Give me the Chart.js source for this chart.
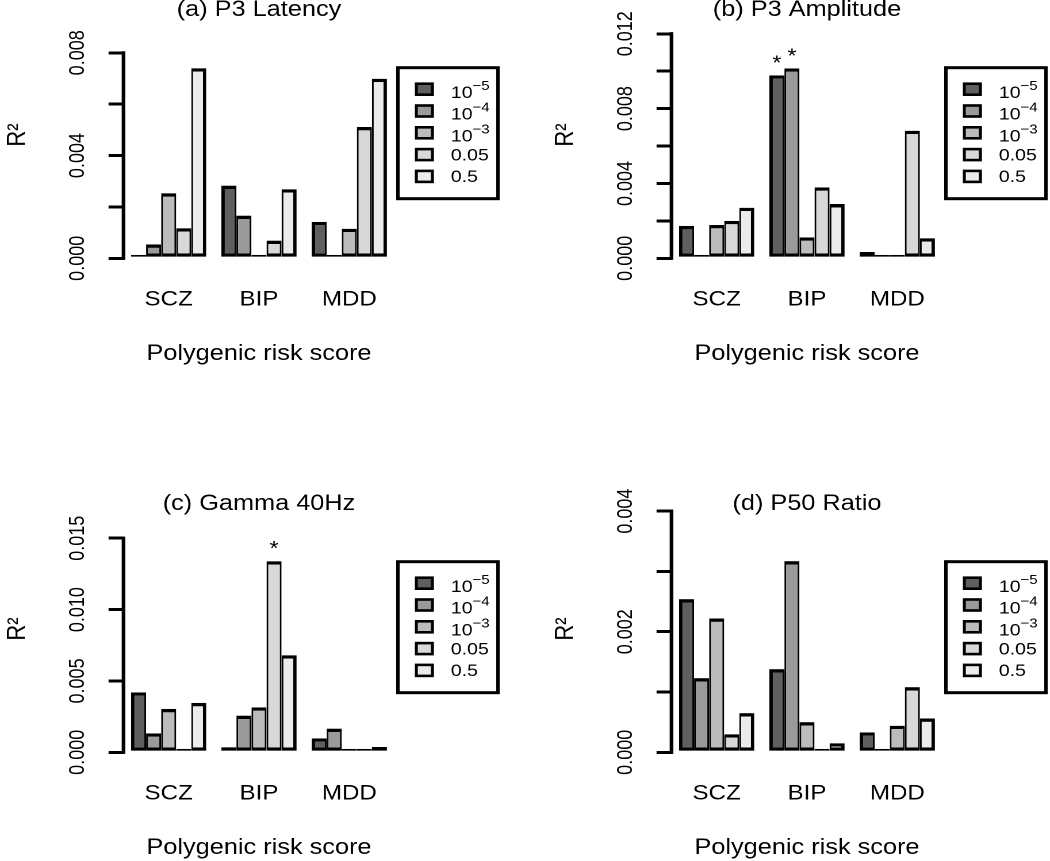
<!DOCTYPE html>
<html>
<head>
<meta charset="utf-8">
<script src="https://cdn.jsdelivr.net/npm/chart.js@4.4.1/dist/chart.umd.min.js"></script>
<style>
  html, body { margin: 0; padding: 0; background: #fff; }
  body { width: 1050px; height: 861px; position: relative; overflow: hidden; }
  /* the original figure is a little wider than tall, so stretch each panel */
  .panel { position: absolute; width: 436px; height: 391px; transform: scaleX(1.15); transform-origin: 0 0; }
</style>
</head>
<body>
<div class="panel" style="left:0;top:-24px"><canvas id="latency"></canvas></div>
<div class="panel" style="left:548px;top:-24px"><canvas id="amplitude"></canvas></div>
<div class="panel" style="left:0;top:470px"><canvas id="gamma"></canvas></div>
<div class="panel" style="left:548px;top:470px"><canvas id="p50"></canvas></div>
<script>
const categories = ['SCZ', 'BIP', 'MDD'];
const thresholds = ['10^-5', '10^-4', '10^-3', '0.05', '0.5'];
const shades = ['#5f5f5f', '#9a9a9a', '#bcbcbc', '#d8d8d8', '#ebebeb'];

// R^2 for each p-value threshold, one array per risk score
const latencySCZ = [0.00002, 0.00054, 0.00253, 0.00117, 0.0074];
const latencyBIP = [0.00283, 0.00166, 0.00009, 0.00069, 0.00269];
const latencyMDD = [0.00142, 0, 0.00115, 0.00511, 0.00699];

const amplitudeSCZ = [0.00173, 0.00012, 0.00178, 0.0020, 0.0027];
const amplitudeBIP = [0.00978, 0.01015, 0.00112, 0.00379, 0.0029];
const amplitudeMDD = [0.00034, 0.00002, 0.00007, 0.00682, 0.00107];

const gammaSCZ = [0.0042, 0.00133, 0.00304, 0.00005, 0.00346];
const gammaBIP = [0.00035, 0.00257, 0.00315, 0.01339, 0.0068];
const gammaMDD = [0.00098, 0.00166, 0, 0.00002, 0.00037];

const p50SCZ = [0.00254, 0.00123, 0.00222, 0.0003, 0.00065];
const p50BIP = [0.00138, 0.00317, 0.0005, 0.00004, 0.00015];
const p50MDD = [0.00033, 0, 0.00044, 0.00108, 0.00056];

// [category index, threshold index] of the bars marked with a star
const amplitudeStars = [[1, 0], [1, 1]];
const gammaStars = [[1, 3]];

Chart.defaults.font.family = "'Liberation Sans', Arial, sans-serif";
Chart.defaults.color = '#000';

const rDecor = {
    id: 'rDecor',
    afterDraw(chart, args, opts) {
        const {ctx, chartArea, scales: {y}} = chart;
        const family = Chart.defaults.font.family;
        ctx.save();
        ctx.strokeStyle = '#000';
        ctx.fillStyle = '#000';

        // R draws the axis line only between the first and last tick
        const ticks = y.ticks;
        ctx.lineWidth = 3.2;
        ctx.beginPath();
        ctx.moveTo(chartArea.left, y.getPixelForValue(ticks[0].value) + 1.6);
        ctx.lineTo(chartArea.left, y.getPixelForValue(ticks[ticks.length - 1].value) - 1.6);
        ctx.stroke();

        ctx.font = '20px ' + family;
        ctx.textAlign = 'center';
        ctx.textBaseline = 'alphabetic';
        for (const [g, d] of opts.stars || []) {
            const bar = chart.getDatasetMeta(d).data[g];
            ctx.fillText('*', bar.x, bar.y - 6);
        }

        // boxed legend to the right of the plot
        const lx = chartArea.right + 3, ly = chartArea.top + 56;
        ctx.lineWidth = 3;
        ctx.strokeRect(lx, ly, 87, 131);
        chart.data.datasets.forEach((ds, i) => {
            const cy = ly + 21.5 + i * 21.8;
            ctx.fillStyle = ds.backgroundColor;
            ctx.fillRect(lx + 16, cy - 5.5, 14, 11);
            ctx.lineWidth = 2.6;
            ctx.strokeRect(lx + 16, cy - 5.5, 14, 11);
            ctx.fillStyle = '#000';
            ctx.textAlign = 'left';
            ctx.textBaseline = 'middle';
            const [base, exp] = ds.label.split('^');
            ctx.font = '17px ' + family;
            if (exp) {
                ctx.fillText(base, lx + 46, cy + 4);
                const w = ctx.measureText(base).width;
                ctx.font = '13px ' + family;
                ctx.fillText(exp.replace('-', '\u2212'), lx + 46 + w, cy - 3);
            } else {
                ctx.fillText(base, lx + 46, cy + 1);
            }
        });
        ctx.restore();
    }
};

function drawPanel(id, title, groups, yMax, yStep, labelEvery, stars) {
    const datasets = thresholds.map((t, i) => ({
        label: t,
        data: groups.map(g => g[i]),
        backgroundColor: shades[i],
        borderColor: '#000',
        borderWidth: {top: 3.4, bottom: 3.4, left: i === 0 ? 3 : 1.6, right: i === 4 ? 3 : 1.6},
        borderSkipped: false,
        minBarLength: 3.4,
        inflateAmount: 0,
        categoryPercentage: 5 / 6,
        barPercentage: 1
    }));

    new Chart(document.getElementById(id), {
        type: 'bar',
        data: {labels: categories, datasets},
        plugins: [rDecor],
        options: {
            responsive: true,
            maintainAspectRatio: false,
            animation: false,
            devicePixelRatio: 2,
            layout: {padding: {top: 24, left: 0, right: 93, bottom: 0}},
            plugins: {
                legend: {display: false},
                tooltip: {enabled: false},
                title: {
                    display: true, text: title, fullSize: false, color: '#000',
                    font: {size: 22, weight: 'normal', lineHeight: 1},
                    padding: {top: -1, bottom: -9.3}
                },
                rDecor: {stars}
            },
            scales: {
                x: {
                    grid: {display: false, drawTicks: false, tickLength: 0},
                    border: {display: false},
                    ticks: {color: '#000', font: {size: 21}, padding: 29, autoSkip: false, maxRotation: 0},
                    title: {display: true, text: 'Polygenic risk score', color: '#000', font: {size: 22}, padding: 0},
                    afterFit: s => { s.height = 108.7; }
                },
                y: {
                    min: 0,
                    max: yMax,
                    grid: {drawOnChartArea: false, drawTicks: true, tickLength: 13, color: '#000', lineWidth: 3},
                    border: {display: false},
                    ticks: {
                        stepSize: yStep, includeBounds: false, autoSkip: false,
                        minRotation: 90, maxRotation: 90, crossAlign: 'center',
                        padding: 4, color: '#000', font: {size: 18, lineHeight: 0.8},
                        callback: v => Math.abs(v / labelEvery - Math.round(v / labelEvery)) < 1e-6 ? v.toFixed(3) : ''
                    },
                    title: {display: true, text: 'R²', color: '#000', font: {size: 22}, padding: {top: 2, bottom: 0}},
                    afterFit: s => { s.width = 107.4; }
                }
            }
        }
    });
}

drawPanel('latency', '(a) P3 Latency', [latencySCZ, latencyBIP, latencyMDD], 0.0096, 0.002, 0.004, []);
drawPanel('amplitude', '(b) P3 Amplitude', [amplitudeSCZ, amplitudeBIP, amplitudeMDD], 0.01318, 0.002, 0.004, amplitudeStars);
drawPanel('gamma', '(c) Gamma 40Hz', [gammaSCZ, gammaBIP, gammaMDD], 0.01728, 0.005, 0.005, gammaStars);
drawPanel('p50', '(d) P50 Ratio', [p50SCZ, p50BIP, p50MDD], 0.00409, 0.001, 0.002, []);
</script>
</body>
</html>
